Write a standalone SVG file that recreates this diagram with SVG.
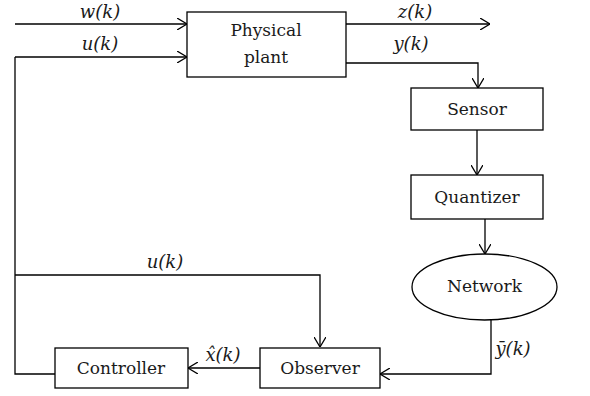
<svg xmlns="http://www.w3.org/2000/svg" width="590" height="396" viewBox="0 0 590 396">
<style>
.box{fill:#fff;stroke:#000;stroke-width:1.3}
.ln{fill:none;stroke:#000;stroke-width:1.3}
.t{font-family:'DejaVu Serif',serif;font-size:17px;fill:#1a1a1a;text-anchor:middle}
.m{font-family:'DejaVu Serif',serif;font-size:18px;font-style:italic;fill:#1a1a1a;text-anchor:middle}
</style>
<defs>
<marker id="a" viewBox="0 0 10 12" refX="10" refY="6" markerWidth="10" markerHeight="12" markerUnits="userSpaceOnUse" orient="auto">
<path d="M0,0 L10,6 L0,12" fill="none" stroke="#000" stroke-width="1.3"/>
</marker>
</defs>
<rect width="590" height="396" fill="#fff"/>
<g id="connectors">
<path class="ln" d="M15,24 H187" marker-end="url(#a)"/>
<path class="ln" d="M15,57 H187" marker-end="url(#a)"/>
<path class="ln" d="M346,24 H490" marker-end="url(#a)"/>
<path class="ln" d="M346,63 H478 V88" marker-end="url(#a)"/>
<path class="ln" d="M477,130 V175" marker-end="url(#a)"/>
<path class="ln" d="M485,219 V254" marker-end="url(#a)"/>
<path class="ln" d="M491,320 V374 H380" marker-end="url(#a)"/>
<path class="ln" d="M260,368 H188" marker-end="url(#a)"/>
<path class="ln" d="M55,374 H15 V57"/>
<path class="ln" d="M15,275 H320 V347" marker-end="url(#a)"/>
<text class="m" x="100" y="18">w(k)</text>
<text class="m" x="100" y="50">u(k)</text>
<text class="m" x="415" y="18">z(k)</text>
<text class="m" x="411" y="50">y(k)</text>
<text class="m" x="165" y="268">u(k)</text>
<text class="m" x="513" y="355">ȳ(k)</text>
<text class="m" x="223" y="361">x̂(k)</text>
</g>
<g id="plant">
<rect class="box" x="187" y="12" width="159" height="65"/>
<text class="t" x="266" y="36">Physical</text>
<text class="t" x="266" y="63">plant</text>
</g>
<g id="sensor">
<rect class="box" x="411" y="88" width="132" height="42"/>
<text class="t" x="477" y="115">Sensor</text>
</g>
<g id="quantizer">
<rect class="box" x="411" y="175" width="132" height="44"/>
<text class="t" x="477" y="203">Quantizer</text>
</g>
<g id="network">
<ellipse class="box" cx="484.5" cy="287" rx="72.5" ry="33"/>
<text class="t" x="484.5" y="292">Network</text>
</g>
<g id="observer">
<rect class="box" x="260" y="348" width="120" height="40"/>
<text class="t" x="320" y="374">Observer</text>
</g>
<g id="controller">
<rect class="box" x="55" y="348" width="133" height="40"/>
<text class="t" x="121" y="374">Controller</text>
</g>
</svg>
